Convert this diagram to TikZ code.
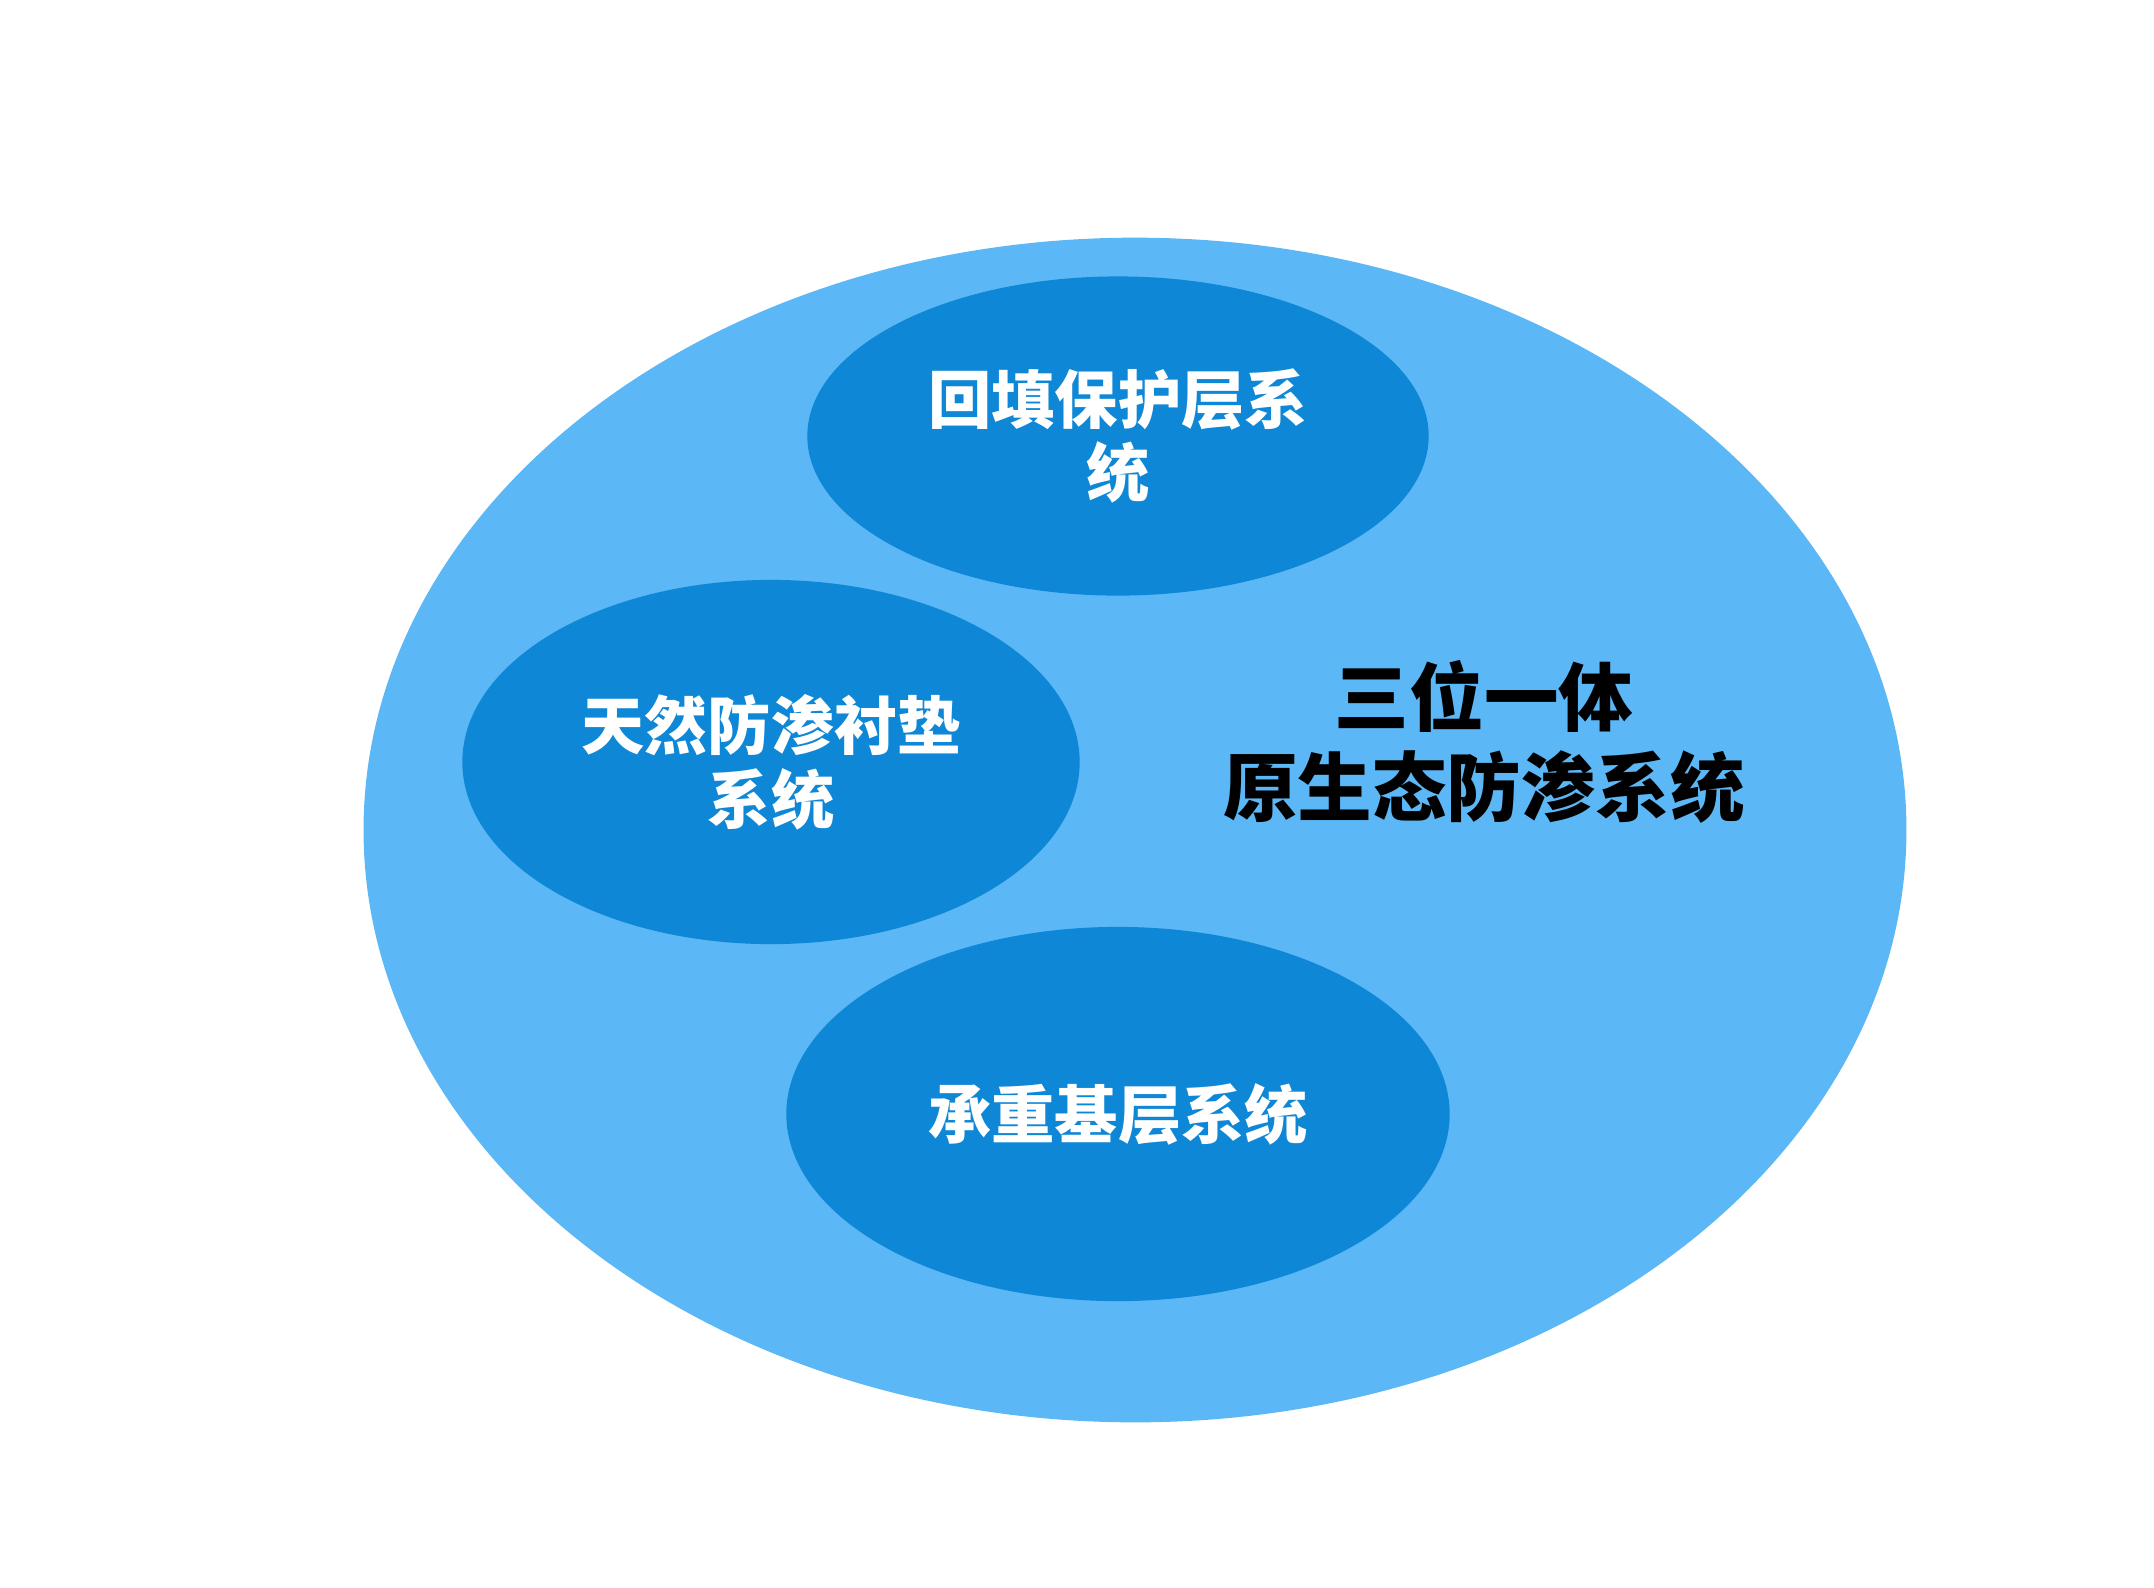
\documentclass[tikz,border=0pt]{standalone}
\usepackage{fontspec}
\usepackage{xcolor}
\usepackage{tikz}
\usetikzlibrary{shapes, backgrounds}
\newfontfamily\cjk{Noto Sans CJK SC}
\definecolor{outerblue}{HTML}{5BB7F5}
\definecolor{innerblue}{HTML}{0E87D6}

\begin{document}
\begin{tikzpicture}[x=0.01cm, y=-0.01cm]
\useasboundingbox (0,0) rectangle (2154,1587);
\node[ellipse, fill=outerblue, inner sep=0pt, minimum width=15.42cm, minimum height=11.84cm] (whole) at (1135,830) {};

\begin{scope}[every node/.style={ellipse, fill=innerblue, inner sep=0pt, text=white, align=center,
              font=\cjk\bfseries\fontsize{18}{21}\selectfont}]
  \node[minimum width=6.21cm, minimum height=3.19cm] (backfill) at (1118,436) {回填保护层系\\统};
  \node[minimum width=6.17cm, minimum height=3.64cm] (liner) at (771,762) {天然防渗衬垫\\系统};
  \node[minimum width=6.63cm, minimum height=3.74cm] (base) at (1118,1114) {承重基层系统};
\end{scope}

\node[align=center, text=black, font=\cjk\bfseries\fontsize{21.2}{25.6}\selectfont] (title) at (1484,742) {三位一体\\原生态防渗系统};

\end{tikzpicture}
\end{document}
